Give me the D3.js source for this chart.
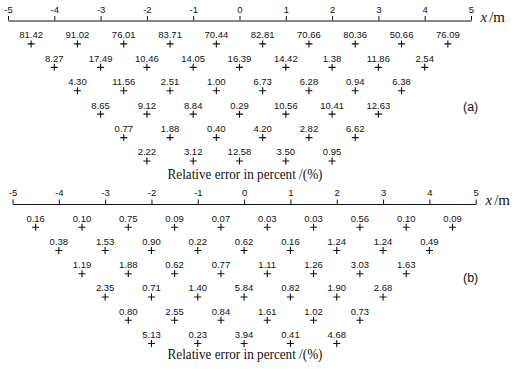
<!DOCTYPE html>
<html>
<head>
<meta charset="utf-8">
<script src="https://cdn.jsdelivr.net/npm/d3@7/dist/d3.min.js"></script>
<style>
html,body{margin:0;padding:0;background:#fff;}
svg{display:block;}
</style>
</head>
<body>
<svg id="chart" width="514" height="369"></svg>
<script>
// Tick values (x, m)
const xTicks = [-5, -4, -3, -2, -1, 0, 1, 2, 3, 4, 5];

// Panel (a): relative error in percent, by pseudo-section level (row 1 = shallowest)
const errorsA_level1 = [81.42, 91.02, 76.01, 83.71, 70.44, 82.81, 70.66, 80.36, 50.66, 76.09];
const errorsA_level2 = [8.27, 17.49, 10.46, 14.05, 16.39, 14.42, 1.38, 11.86, 2.54];
const errorsA_level3 = [4.30, 11.56, 2.51, 1.00, 6.73, 6.28, 0.94, 6.38];
const errorsA_level4 = [8.65, 9.12, 8.84, 0.29, 10.56, 10.41, 12.63];
const errorsA_level5 = [0.77, 1.88, 0.40, 4.20, 2.82, 6.62];
const errorsA_level6 = [2.22, 3.12, 12.58, 3.50, 0.95];

// Panel (b)
const errorsB_level1 = [0.16, 0.10, 0.75, 0.09, 0.07, 0.03, 0.03, 0.56, 0.10, 0.09];
const errorsB_level2 = [0.38, 1.53, 0.90, 0.22, 0.62, 0.16, 1.24, 1.24, 0.49];
const errorsB_level3 = [1.19, 1.88, 0.62, 0.77, 1.11, 1.26, 3.03, 1.63];
const errorsB_level4 = [2.35, 0.71, 1.40, 5.84, 0.82, 1.90, 2.68];
const errorsB_level5 = [0.80, 2.55, 0.84, 1.61, 1.02, 0.73];
const errorsB_level6 = [5.13, 0.23, 3.94, 0.41, 4.68];

const panelLabels = ["(a)", "(b)"];
const titleText = "Relative error in percent /(%)";

const levelsA = [errorsA_level1, errorsA_level2, errorsA_level3, errorsA_level4, errorsA_level5, errorsA_level6];
const levelsB = [errorsB_level1, errorsB_level2, errorsB_level3, errorsB_level4, errorsB_level5, errorsB_level6];

const svg = d3.select("#chart");
const sans = "'Liberation Sans', Arial, Helvetica, sans-serif";
const serif = "'Liberation Serif', 'Times New Roman', Times, serif";

// Build point list: level n has points at x = -5 + n/2 + i
function toPoints(levels) {
  const pts = [];
  levels.forEach((vals, li) => {
    const n = li + 1;
    vals.forEach((v, i) => pts.push({level: n, x: -5 + n / 2 + i, value: v}));
  });
  return pts;
}

const panels = [
  {levels: levelsA, x0: 8, x1: 471, yAxis: 20.5, yBottom: 161, label: panelLabels[0], labelY: 111, titleY: 178.7, unitX: 480.5},
  {levels: levelsB, x0: 12.5, x1: 475.7, yAxis: 204, yBottom: 343.5, label: panelLabels[1], labelY: 282, titleY: 358.8, unitX: 485.5}
];

panels.forEach(p => {
  const x = d3.scaleLinear().domain([-5, 5]).range([p.x0, p.x1]);
  const y = d3.scaleLinear().domain([0, 6]).range([p.yAxis, p.yBottom]);
  const g = svg.append("g");

  const axis = d3.axisTop(x).tickValues(xTicks).tickSize(4.5).tickSizeOuter(0).tickPadding(3.3)
    .tickFormat(d => String(d));
  const ag = g.append("g").attr("transform", `translate(0,${y(0)})`).call(axis);
  ag.select(".domain").attr("stroke", "#111").attr("stroke-width", 1);
  ag.selectAll(".tick line").attr("stroke", "#111").attr("stroke-width", 1);
  ag.selectAll(".tick text").attr("fill", "#111").style("font-family", sans).style("font-size", "9.5px");

  // unit label x/m
  const unit = g.append("text").attr("x", p.unitX).attr("y", y(0) + 1)
    .style("font-family", serif).style("font-size", "15px").attr("fill", "#111");
  unit.append("tspan").style("font-style", "italic").text("x");
  unit.append("tspan").attr("dx", 2).text("/m");

  const pts = toPoints(p.levels);
  const pg = g.selectAll("g.pt").data(pts).join("g").attr("class", "pt")
    .attr("transform", d => `translate(${x(d.x)},${y(d.level)})`);
  pg.append("path").attr("d", "M-3.5,0H3.5M0,-3.5V3.5").attr("stroke", "#111").attr("stroke-width", 1.1).attr("fill", "none");
  pg.append("text").attr("y", -5.6).attr("text-anchor", "middle")
    .style("font-family", sans).style("font-size", "9.5px").attr("fill", "#111")
    .text(d => d.value.toFixed(2));

  g.append("text").attr("x", 463).attr("y", p.labelY)
    .style("font-family", sans).style("font-size", "12.5px").attr("fill", "#111").text(p.label);

  g.append("text").attr("x", 167.5).attr("y", p.titleY)
    .attr("textLength", 155).attr("lengthAdjust", "spacingAndGlyphs")
    .style("font-family", serif).style("font-size", "14px").attr("fill", "#111").text(titleText);
});
</script>
</body>
</html>
